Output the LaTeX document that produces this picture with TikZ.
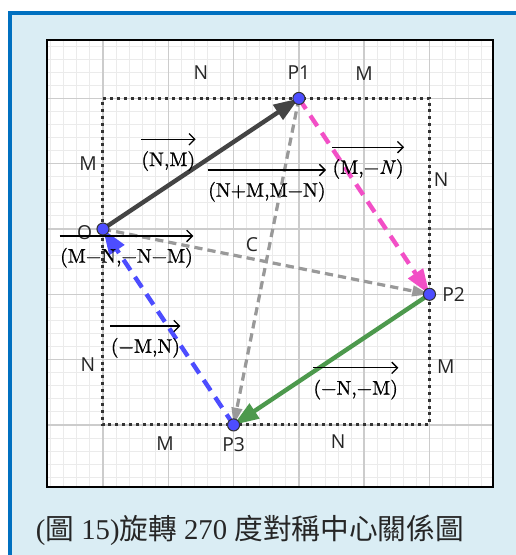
\documentclass[tikz,border=0pt]{standalone}
\usepackage{fontspec}
\usepackage{tikz}
\usetikzlibrary{arrows.meta, positioning, calc}
\newfontfamily\cjk{Noto Sans CJK TC}
\newfontfamily\capserif{Liberation Serif}
\newfontfamily\lblsans{Open Sans}
\newfontfamily\vecfont{lmroman10-regular.otf}[FakeBold=0.9, ItalicFont=lmroman10-italic.otf, ItalicFeatures={FakeBold=0.9}]
\definecolor{panelblue}{HTML}{DAEDF4}
\definecolor{edgeblue}{HTML}{0070C0}
\definecolor{gridmajor}{HTML}{CCCCCC}
\definecolor{gridminor}{HTML}{EBEBEB}
\definecolor{vecdark}{HTML}{444444}
\definecolor{vecpink}{HTML}{F24FC6}
\definecolor{vecgreen}{HTML}{4D994D}
\definecolor{vecblue}{HTML}{4D4DFF}
\definecolor{vecgray}{HTML}{999999}
\tikzset{
    ptdot/.style={circle, draw=black!80, fill=vecblue, line width=0.45pt, inner sep=0pt, minimum size=0.185cm},
    sidelabel/.style={font=\lblsans\fontsize{8.4}{10}\selectfont, text=black!85, inner sep=0pt},
    veclabel/.style={font=\vecfont\fontsize{8.6}{10}\selectfont, inner sep=0pt},
    overarrow/.style={-{Straight Barb[length=2.5pt, width=5pt]}, line width=0.55pt},
    bigvec/.style={-{Triangle[length=11pt, width=7.5pt]}, line width=1.9pt},
    thinvec/.style={-{Triangle[length=7.5pt, width=4.5pt]}, line width=1.4pt, draw=vecgray, dash pattern=on 3.6pt off 2.2pt},
    dottedbox/.style={draw=black!80, line width=1.3pt, dash pattern=on 1.3pt off 1.7pt}
}

\begin{document}
\begin{tikzpicture}
    \useasboundingbox (-1.577,-4.992) rectangle (6.325,3.507);
    % panel and grid
    \fill[panelblue] (-1.424,3.308) rectangle (6.325,-4.992);
    \draw[edgeblue, line width=1.75pt] (-1.424,-4.992) -- (-1.424,3.308) -- (6.325,3.308);
    \fill[white] (-0.858,-3.951) rectangle (5.972,2.894);
    \draw[gridminor, line width=0.4pt, step=0.2] (-0.858,-3.951) grid (5.972,2.894);
    \draw[gridmajor, line width=0.6pt, step=1] (-0.858,-3.951) grid (5.972,2.894);
    \draw[black, line width=1pt] (-0.858,-3.951) rectangle (5.972,2.894);

    \coordinate (O) at (0,0);
    \coordinate (P1) at (3,2);
    \coordinate (P2) at (5,-1);
    \coordinate (P3) at (2,-3);

    \draw[dottedbox] (O) |- (P1) -| (P2) |- (P3) -| (O);

    % vectors
    \draw[thinvec] (O) -- (P2);
    \draw[thinvec] (P1) -- (P3);
    \draw[bigvec, draw=vecdark] (O) -- (P1);
    \draw[bigvec, draw=vecpink, dash pattern=on 5.5pt off 3.5pt] (P1) -- (P2);
    \draw[bigvec, draw=vecgreen] (P2) -- (P3);
    \draw[bigvec, draw=vecblue, dash pattern=on 5.5pt off 3.5pt] (P3) -- (O);

    \node[ptdot] (Odot) at (O) {};
    \node[ptdot] (P1dot) at (P1) {};
    \node[ptdot] (P2dot) at (P2) {};
    \node[ptdot] (P3dot) at (P3) {};

    % side labels
    \node[sidelabel] (lblO) at (-0.28,-0.05) {O};
    \node[sidelabel] (lblP1) at (3,2.39) {P1};
    \node[sidelabel] (lblP2) at (5.37,-1.0) {P2};
    \node[sidelabel] (lblP3) at (2,-3.3) {P3};
    \node[sidelabel] (lblC) at (2.28,-0.24) {C};
    \node[sidelabel] (topN) at (1.5,2.4) {N};
    \node[sidelabel] (topM) at (4,2.38) {M};
    \node[sidelabel] (leftM) at (-0.23,1.0) {M};
    \node[sidelabel] (rightN) at (5.18,0.75) {N};
    \node[sidelabel] (rightM) at (5.25,-2.1) {M};
    \node[sidelabel] (leftN) at (-0.23,-2.07) {N};
    \node[sidelabel] (botM) at (0.95,-3.28) {M};
    \node[sidelabel] (botN) at (3.6,-3.25) {N};

    % vector labels
    \node[veclabel] (vOP1) at (1.0,1.04) {(N,M)};
    \draw[overarrow] ([yshift=5pt]vOP1.north west) -- ([yshift=5pt]vOP1.north east);
    \node[veclabel] (vSum) at (2.51,0.57) {(N+M,M−N)};
    \draw[overarrow] ([yshift=5pt]vSum.north west) -- ([yshift=5pt]vSum.north east);
    \node[veclabel] (vP1P2) at (4.06,0.92) {(M,−\textit{N})};
    \draw[overarrow] ([yshift=5pt]vP1P2.north west) -- ([yshift=5pt]vP1P2.north east);
    \node[veclabel] (vOP2) at (0.36,-0.44) {(M−N,−N−M)};
    \draw[overarrow] ([yshift=5pt]vOP2.north west) -- ([yshift=5pt]vOP2.north east);
    \node[veclabel] (vP3O) at (0.65,-1.82) {(−M,N)};
    \draw[overarrow] ([yshift=5pt]vP3O.north west) -- ([yshift=5pt]vP3O.north east);
    \node[veclabel] (vP2P3) at (3.87,-2.46) {(−N,−M)};
    \draw[overarrow] ([yshift=5pt]vP2P3.north west) -- ([yshift=5pt]vP2P3.north east);

    % caption
    \node[anchor=base, inner sep=0pt, text=black!85, font=\fontsize{12.5}{14}\selectfont] (caption) at (2.25,-4.75)
        {\capserif (\cjk 圖\capserif{} 15)\cjk 旋轉\capserif{} 270 \cjk 度對稱中心關係圖};
\end{tikzpicture}
\end{document}
